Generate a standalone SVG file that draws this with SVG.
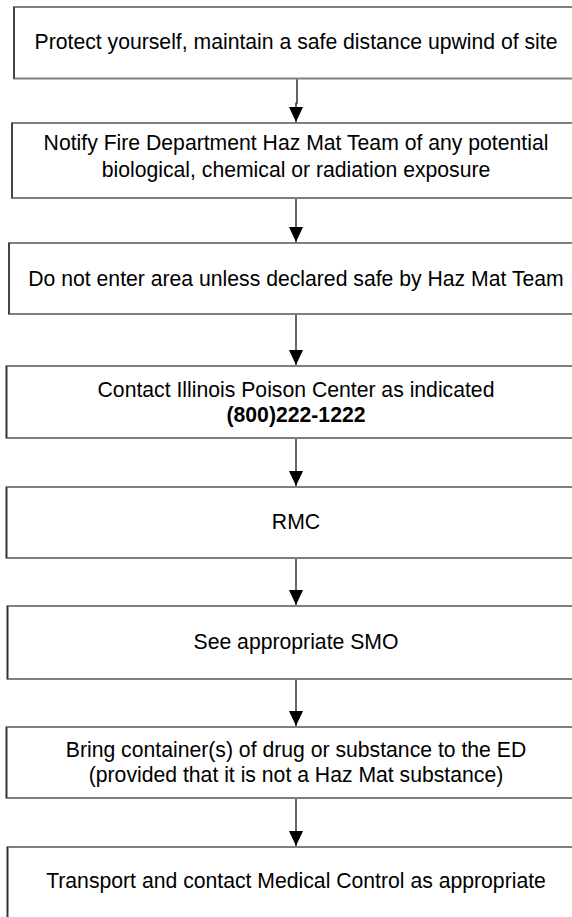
<svg xmlns="http://www.w3.org/2000/svg" width="572" height="917" viewBox="0 0 572 917">
<defs>
<marker id="ah" markerUnits="userSpaceOnUse" markerWidth="15" markerHeight="14" refX="15" refY="7" orient="auto" viewBox="0 0 15 14">
<path d="M0,0 L15,7 L0,14 Z" fill="#000"/>
</marker>
<style>
.box{fill:#fff;stroke:#808080;stroke-width:2}
.edge{stroke:#303030;stroke-width:1.5;fill:none}
.t{font-family:"Liberation Sans",Arial,sans-serif;font-size:21.2px;fill:#000;text-anchor:middle}
.b{font-weight:bold}
.c{stroke:#000;stroke-width:1.2;fill:none}
</style>
</defs>
<rect width="572" height="917" fill="#fff"/>
<g id="connectors">
<path class="c" d="M297,79 V103 H296 V122" marker-end="url(#ah)"/>
<path class="c" d="M296,199 V242" marker-end="url(#ah)"/>
<path class="c" d="M296,315 V365" marker-end="url(#ah)"/>
<path class="c" d="M296,439 V486" marker-end="url(#ah)"/>
<path class="c" d="M296,559 V605" marker-end="url(#ah)"/>
<path class="c" d="M296,680 V726" marker-end="url(#ah)"/>
<path class="c" d="M296,799 V846" marker-end="url(#ah)"/>
</g>
<g id="n1">
<rect class="box" x="14" y="7" width="600" height="71.5"/>
<line class="edge" x1="14" y1="7" x2="14" y2="78.5"/>
<text class="t" x="296" y="48.5">Protect yourself, maintain a safe distance upwind of site</text>
</g>
<g id="n2">
<rect class="box" x="12" y="123" width="600" height="75"/>
<line class="edge" x1="12" y1="123" x2="12" y2="198"/>
<text class="t" x="296" y="150">Notify Fire Department Haz Mat Team of any potential</text>
<text class="t" x="296" y="177">biological, chemical or radiation exposure</text>
</g>
<g id="n3">
<rect class="box" x="9" y="243" width="600" height="71"/>
<line class="edge" x1="9" y1="243" x2="9" y2="314"/>
<text class="t" x="296" y="285.5">Do not enter area unless declared safe by Haz Mat Team</text>
</g>
<g id="n4">
<rect class="box" x="6.5" y="366" width="600" height="72"/>
<line class="edge" x1="6.5" y1="366" x2="6.5" y2="438"/>
<text class="t" x="296" y="397">Contact Illinois Poison Center as indicated</text>
<text class="t b" x="296" y="422">(800)222-1222</text>
</g>
<g id="n5">
<rect class="box" x="6.5" y="487" width="600" height="71"/>
<line class="edge" x1="6.5" y1="487" x2="6.5" y2="558"/>
<text class="t" x="296" y="529">RMC</text>
</g>
<g id="n6">
<rect class="box" x="7.5" y="606" width="600" height="73"/>
<line class="edge" x1="7.5" y1="606" x2="7.5" y2="679"/>
<text class="t" x="296" y="649">See appropriate SMO</text>
</g>
<g id="n7">
<rect class="box" x="6.5" y="727" width="600" height="71"/>
<line class="edge" x1="6.5" y1="727" x2="6.5" y2="798"/>
<text class="t" x="296" y="757">Bring container(s) of drug or substance to the ED</text>
<text class="t" x="296" y="782">(provided that it is not a Haz Mat substance)</text>
</g>
<g id="n8">
<rect class="box" x="7.5" y="847" width="600" height="100"/>
<line class="edge" x1="7.5" y1="847" x2="7.5" y2="917"/>
<text class="t" x="296" y="888">Transport and contact Medical Control as appropriate</text>
</g>
</svg>
